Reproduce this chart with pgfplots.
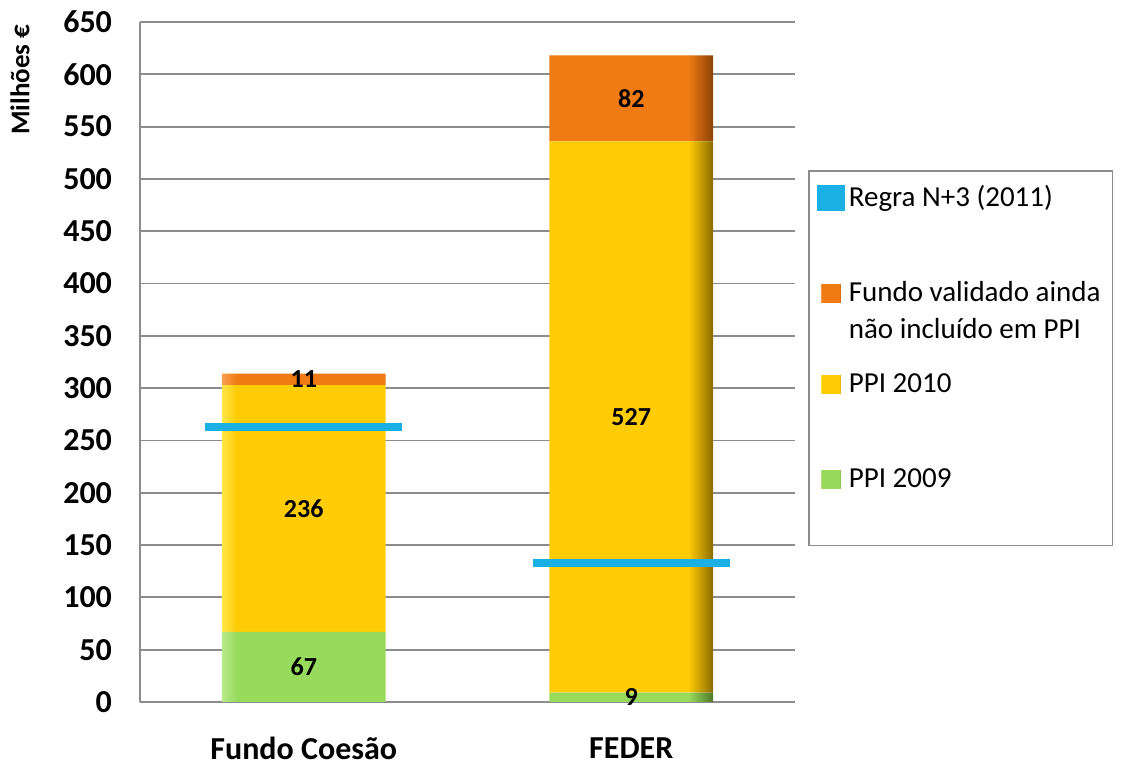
\documentclass[border=0pt]{standalone}
\usepackage{pgfplots}
\pgfplotsset{compat=1.18}
\usepackage{fontspec}
\setmainfont{Carlito}
\definecolor{gmain}{HTML}{98DA5C}
\definecolor{glight}{HTML}{B8EA88}
\definecolor{gdark}{HTML}{4E7A28}
\definecolor{ymain}{HTML}{FFCC05}
\definecolor{ylight}{HTML}{FFE64A}
\definecolor{ydark}{HTML}{8A6A00}
\definecolor{omain}{HTML}{F07A14}
\definecolor{olight}{HTML}{F8A050}
\definecolor{odark}{HTML}{8A4208}
\definecolor{nblue}{HTML}{1BB0E4}
\definecolor{gridgray}{HTML}{8C8C8C}
\pgfdeclarehorizontalshading{gbev}{100bp}{color(0bp)=(glight); color(25bp)=(glight); color(26.5bp)=(gmain); color(72.5bp)=(gmain); color(75bp)=(gdark); color(100bp)=(gdark)}
\pgfdeclarehorizontalshading{ybev}{100bp}{color(0bp)=(ylight); color(25bp)=(ylight); color(26.5bp)=(ymain); color(72.5bp)=(ymain); color(75bp)=(ydark); color(100bp)=(ydark)}
\pgfdeclarehorizontalshading{obev}{100bp}{color(0bp)=(olight); color(25bp)=(olight); color(26.5bp)=(omain); color(72.5bp)=(omain); color(75bp)=(odark); color(100bp)=(odark)}
\begin{document}
\begin{tikzpicture}
\begin{axis}[
  name=ax,
  set layers,
  scale only axis,
  width=327.5pt, height=340pt,
  ybar stacked,
  bar width=0.5,
  xmin=-0.5, xmax=1.5,
  ymin=0, ymax=650,
  ytick={0,50,...,650},
  xtick={0,1},
  xticklabels={Fundo Coesão, FEDER},
  axis x line*=bottom,
  axis y line*=left,
  axis line style={draw=gridgray, line width=0.9pt},
  major tick length=0pt,
  ymajorgrids,
  grid style={draw=gridgray, line width=0.9pt},
  /pgf/number format/assume math mode=true,
  yticklabel style={font=\fontsize{16}{16}\selectfont\bfseries, xshift=-10.5pt},
  xticklabel style={font=\fontsize{16}{16}\selectfont\bfseries, inner sep=1pt, yshift=-16.5pt},
  ylabel={Milhões €},
  every axis y label/.style={at={(axis description cs:0,0.915)}, xshift=-60pt, rotate=90, anchor=center, font=\fontsize{13.5}{13.5}\selectfont\bfseries},
  nodes near coords,
  point meta=explicit symbolic,
  every node near coord/.style={anchor=center, font=\fontsize{13}{13}\selectfont\bfseries, text=black},
  legend image code/.code={\fill[#1] (0pt,-0.5pt) rectangle (10pt,8.5pt);},
  reverse legend,
  legend cell align=left,
  legend style={at={(1.02,0.782)}, anchor=north west, draw=gridgray, line width=0.7pt,
    font=\fontsize{14.5}{17.4}\selectfont, inner xsep=4pt, inner ysep=5pt,
    nodes={inner sep=2pt, text depth=}, cells={anchor=base west}},
]
\addplot[shade, shading=gbev, draw=none] coordinates {(0,67)[67] (1,9)[9]};
\addlegendentry{PPI 2009\rule[-22pt]{0pt}{22pt}}
\addplot[shade, shading=ybev, draw=none] coordinates {(0,236)[236] (1,527)[527]};
\addlegendentry{PPI 2010\rule[-34.2pt]{0pt}{51.6pt}}
\addplot[shade, shading=obev, draw=none] coordinates {(0,11)[11] (1,82)[82]};
\addlegendentry{\begin{tabular}[t]{@{}l@{}}Fundo validado ainda\\[1.5pt]não incluído em PPI\end{tabular}}
\addplot[sharp plot, stack plots=false, on layer=axis foreground, nodes near coords=, draw=nblue, line width=4pt, unbounded coords=jump,
  legend image code/.code={\fill[nblue] (0pt,-0.5pt) rectangle (10pt,8.5pt);}]
  coordinates {(-0.3,263) (0.3,263) (0.5,inf) (0.7,133) (1.3,133)};
\addlegendentry{Regra N+3 (2011)\rule[-31.3pt]{0pt}{31.3pt}}
\end{axis}
\pgfresetboundingbox
\path[use as bounding box] ([xshift=-70pt,yshift=-31.5pt]ax.south west) rectangle ([xshift=164.5pt,yshift=11pt]ax.north east);
\end{tikzpicture}
\end{document}
